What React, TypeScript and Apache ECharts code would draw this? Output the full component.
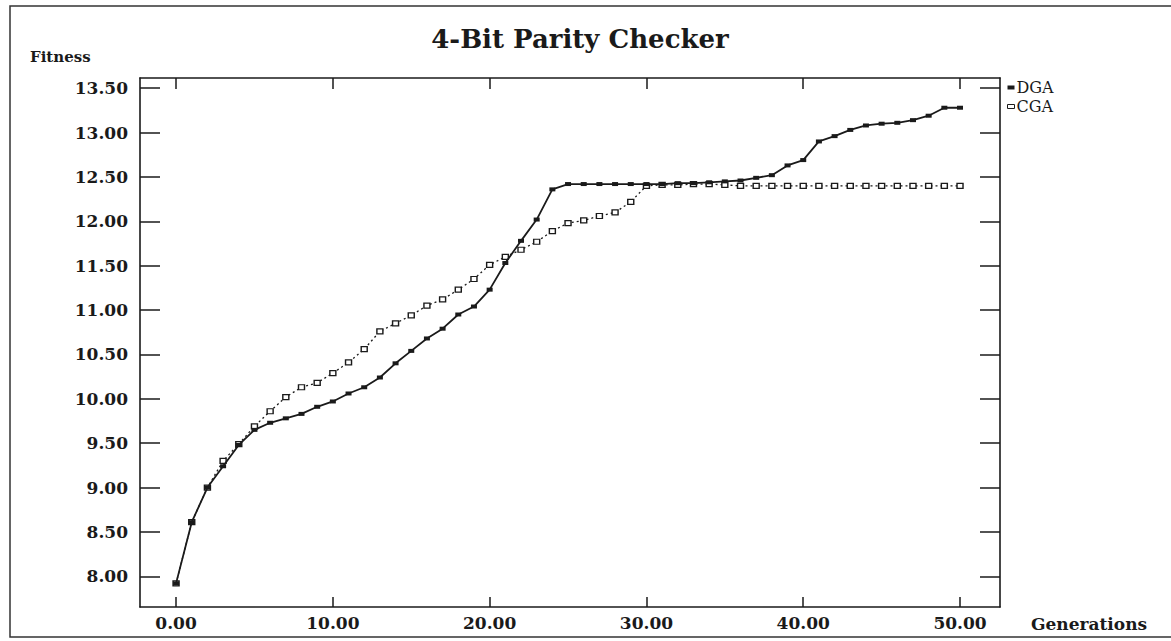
import React, { useEffect, useRef } from "react";
import * as echarts from "echarts";

const generations = [0, 1, 2, 3, 4, 5, 6, 7, 8, 9, 10, 11, 12, 13, 14, 15, 16, 17, 18, 19, 20, 21, 22, 23, 24, 25, 26, 27, 28, 29, 30, 31, 32, 33, 34, 35, 36, 37, 38, 39, 40, 41, 42, 43, 44, 45, 46, 47, 48, 49, 50];

const dga = [7.92, 8.61, 9.0, 9.24, 9.48, 9.65, 9.73, 9.78, 9.83, 9.91, 9.97, 10.06, 10.13, 10.24, 10.4, 10.54, 10.68, 10.79, 10.95, 11.04, 11.23, 11.53, 11.78, 12.02, 12.36, 12.42, 12.42, 12.42, 12.42, 12.42, 12.42, 12.42, 12.43, 12.43, 12.44, 12.45, 12.46, 12.49, 12.52, 12.63, 12.69, 12.9, 12.96, 13.03, 13.08, 13.1, 13.11, 13.14, 13.19, 13.28, 13.28];

const cga = [7.92, 8.61, 9.0, 9.3, 9.49, 9.69, 9.86, 10.02, 10.13, 10.18, 10.29, 10.41, 10.56, 10.76, 10.85, 10.94, 11.05, 11.12, 11.23, 11.35, 11.51, 11.6, 11.68, 11.77, 11.89, 11.98, 12.01, 12.06, 12.1, 12.22, 12.4, 12.41, 12.41, 12.42, 12.42, 12.41, 12.4, 12.4, 12.4, 12.4, 12.4, 12.4, 12.4, 12.4, 12.4, 12.4, 12.4, 12.4, 12.4, 12.4, 12.4];

const xTicks = [0, 10, 20, 30, 40, 50];
const yTicks = [8, 8.5, 9, 9.5, 10, 10.5, 11, 11.5, 12, 12.5, 13, 13.5];

const FONT = "DejaVu Serif";
const INK = "#1a1a1a";

export default function App() {
  const ref = useRef<HTMLDivElement>(null);

  useEffect(() => {
    if (!ref.current) return;
    const chart = echarts.init(ref.current, null, { renderer: "svg" });

    const pairs = (vals: number[]) => generations.map((g, i) => [g, vals[i]]);

    const axisLine = { show: true, onZero: false, lineStyle: { color: INK, width: 1.6 } };
    const labelStyle = { fontFamily: FONT, fontWeight: "bold" as const, fontSize: 17, color: INK };

    chart.setOption({
      animation: false,
      backgroundColor: "#ffffff",
      title: {
        text: "4-Bit Parity Checker",
        left: 575,
        top: 21,
        textAlign: "center",
        textStyle: { fontFamily: FONT, fontWeight: "bold", fontSize: 26, color: INK },
      },
      legend: {
        orient: "vertical",
        left: 1007,
        top: 78,
        itemWidth: 7,
        itemHeight: 4,
        itemGap: 0,
        padding: 0,
        data: [
          { name: "DGA", icon: "rect", itemStyle: { color: INK } },
          { name: "CGA", icon: "rect", itemStyle: { color: "#fff", borderColor: INK, borderWidth: 1 } },
        ],
        textStyle: { fontFamily: FONT, fontSize: 16, lineHeight: 19, color: INK, padding: [0, 0, 0, -3] },
      },
      grid: { left: 140, top: 78, right: 171, bottom: 34, containLabel: false },
      xAxis: [
        {
          type: "value",
          position: "bottom",
          min: -2.3,
          max: 52.55,
          name: "Generations",
          nameLocation: "end",
          nameGap: 31,
          nameTextStyle: {
            fontFamily: FONT,
            fontWeight: "bold",
            fontSize: 17,
            color: INK,
            verticalAlign: "top",
            padding: [8, 0, 0, 0],
          },
          axisLine,
          axisTick: { show: true, inside: true, length: 10, customValues: xTicks, lineStyle: { color: INK, width: 1.5 } },
          axisLabel: {
            ...labelStyle,
            customValues: xTicks,
            margin: 7,
            formatter: (v: number) => v.toFixed(2),
          },
          splitLine: { show: false },
        },
        {
          type: "value",
          position: "top",
          min: -2.3,
          max: 52.55,
          axisLine,
          axisTick: { show: true, inside: true, length: 11, customValues: xTicks, lineStyle: { color: INK, width: 1.5 } },
          axisLabel: { show: false },
          splitLine: { show: false },
        },
      ],
      yAxis: [
        {
          type: "value",
          position: "left",
          min: 7.654,
          max: 13.615,
          axisLine,
          axisTick: { show: true, inside: true, length: 20, customValues: yTicks, lineStyle: { color: INK, width: 1.5 } },
          axisLabel: {
            ...labelStyle,
            customValues: yTicks,
            margin: 12,
            formatter: (v: number) => v.toFixed(2),
          },
          splitLine: { show: false },
        },
        {
          type: "value",
          position: "right",
          min: 7.654,
          max: 13.615,
          axisLine,
          axisTick: { show: true, inside: true, length: 20, customValues: yTicks, lineStyle: { color: INK, width: 1.5 } },
          axisLabel: { show: false },
          splitLine: { show: false },
        },
      ],
      graphic: [
        {
          type: "polyline",
          shape: { points: [[1180, 6], [10, 6], [10, 637], [1180, 637]] },
          style: { fill: "none", stroke: "#333", lineWidth: 1.5 },
          silent: true,
          z: -10,
        },
        {
          type: "text",
          x: 30,
          y: 57,
          style: {
            text: "Fitness",
            fontFamily: FONT,
            fontWeight: "bold",
            fontSize: 15,
            fill: INK,
            textVerticalAlign: "middle",
            verticalAlign: "middle",
          },
          silent: true,
        },
      ],
      series: [
        {
          name: "CGA",
          type: "line",
          xAxisIndex: 0,
          yAxisIndex: 0,
          data: pairs(cga),
          symbol: "rect",
          symbolSize: [6, 5],
          lineStyle: { color: INK, width: 1.3, type: [2, 3] },
          itemStyle: { color: "#fff", borderColor: INK, borderWidth: 1.3 },
          z: 3,
        },
        {
          name: "DGA",
          type: "line",
          xAxisIndex: 0,
          yAxisIndex: 0,
          data: pairs(dga),
          symbol: "rect",
          symbolSize: [6, 4],
          lineStyle: { color: INK, width: 1.8 },
          itemStyle: { color: INK },
          z: 4,
        },
      ],
    });

    return () => chart.dispose();
  }, []);

  return (
    <div
      ref={ref}
      style={{ position: "fixed", left: 0, top: 0, width: 1171, height: 641, background: "#fff" }}
    />
  );
}
